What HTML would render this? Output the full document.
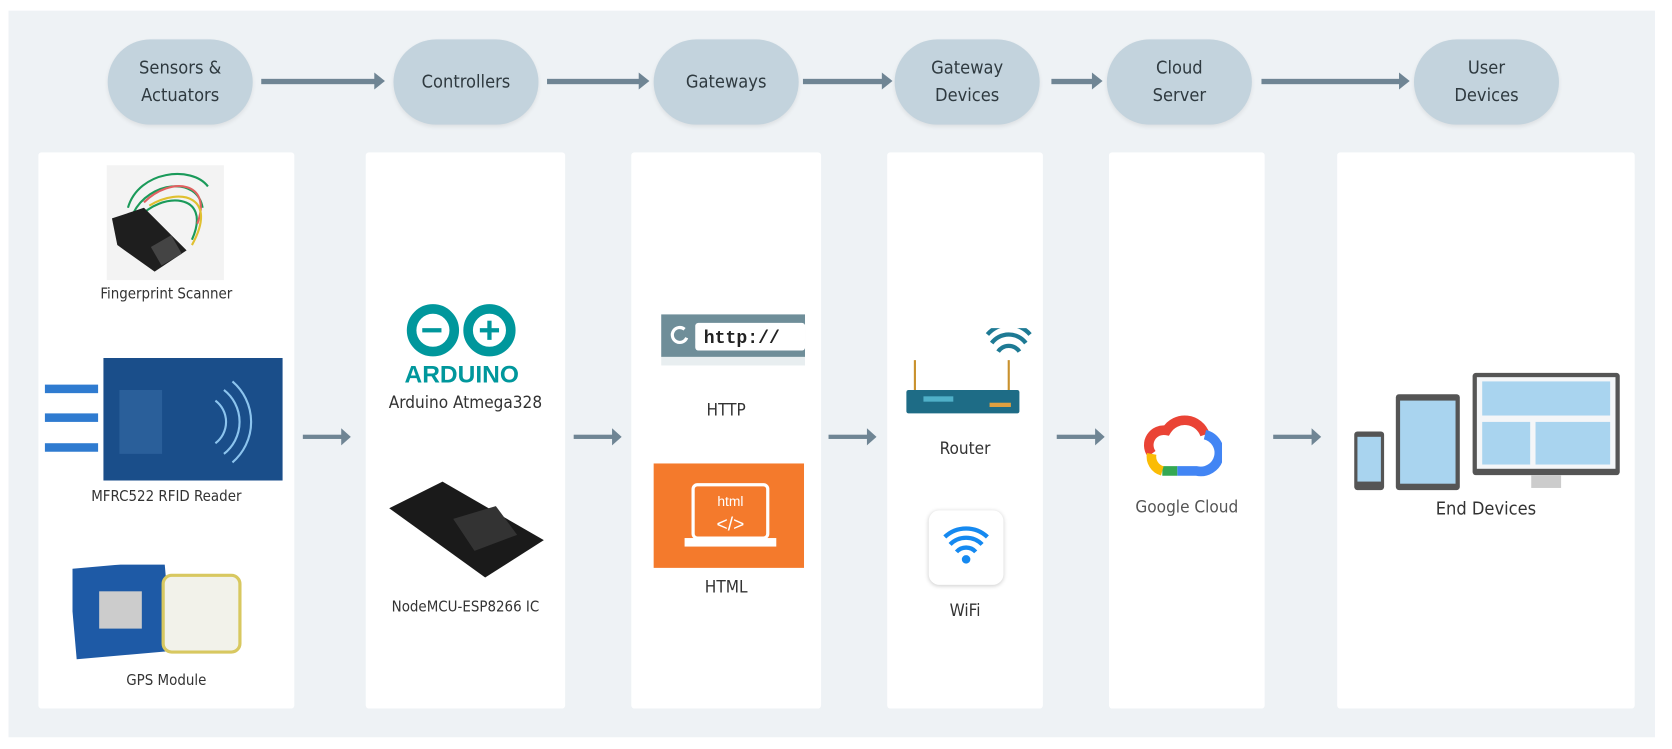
<!DOCTYPE html>
<html><head><meta charset="utf-8"><style>
html,body{margin:0;padding:0;background:#fff;width:1672px;height:749px;overflow:hidden}
#w{position:absolute;left:0;top:0;width:1568px;height:703px;transform:scale(1.06633,1.06543);transform-origin:0 0;font-family:"DejaVu Sans Condensed","Liberation Sans",sans-serif;color:#333}
.bg{position:absolute;left:8px;top:10px;width:1544px;height:682px;background:#eef2f5}
.pill{position:absolute;top:37px;height:80px;width:136px;border-radius:40px;background:#c3d3dd;display:flex;align-items:center;justify-content:center;text-align:center;font-size:17px;line-height:26px;color:#2f3a40;box-shadow:0 2px 4px rgba(0,0,0,.08)}
.ha{position:absolute;height:5px;background:#6f8594;top:74px}
.ha:after{content:"";position:absolute;right:-8px;top:-6px;border-left:10px solid #6f8594;border-top:8px solid transparent;border-bottom:8px solid transparent}
.panel{position:absolute;top:143px;height:522px;background:#fff;border-radius:3px}
.lbl{position:absolute;font-size:14px;color:#333;text-align:center;white-space:nowrap}
.ma{position:absolute;top:408px;height:4px;width:38px;background:#6f8594}
.ma:after{content:"";position:absolute;right:-7px;top:-6px;border-left:9px solid #6f8594;border-top:8px solid transparent;border-bottom:8px solid transparent}
</style></head><body><div id="w">
<div class="bg"></div>
<div class="pill" style="left:101px">Sensors &amp;<br>Actuators</div>
<div class="pill" style="left:369px">Controllers</div>
<div class="pill" style="left:613px">Gateways</div>
<div class="pill" style="left:839px">Gateway<br>Devices</div>
<div class="pill" style="left:1038px">Cloud<br>Server</div>
<div class="pill" style="left:1326px">User<br>Devices</div>
<div class="ha" style="left:245px;width:108px"></div>
<div class="ha" style="left:513px;width:88px"></div>
<div class="ha" style="left:753px;width:76px"></div>
<div class="ha" style="left:986px;width:40px"></div>
<div class="ha" style="left:1183px;width:131px"></div>

<div class="panel" style="left:36px;width:240px"></div>
<div class="panel" style="left:343px;width:187px"></div>
<div class="panel" style="left:592px;width:178px"></div>
<div class="panel" style="left:832px;width:146px"></div>
<div class="panel" style="left:1040px;width:146px"></div>
<div class="panel" style="left:1254px;width:279px"></div>

<div class="ma" style="left:284px"></div>
<div class="ma" style="left:538px"></div>
<div class="ma" style="left:777px"></div>
<div class="ma" style="left:991px"></div>
<div class="ma" style="left:1194px"></div>

<!-- fingerprint -->
<svg style="position:absolute;left:100px;top:155px" width="110" height="108">
<rect width="110" height="108" fill="#f3f3f3"/>
<path d="M20 40 C30 5,80 0,95 20 M25 45 C40 15,85 10,90 40 M30 50 C50 25,100 25,80 70" stroke="#1a9a5a" stroke-width="2" fill="none"/>
<path d="M35 35 C60 10,100 15,85 55" stroke="#e06060" stroke-width="2" fill="none"/>
<path d="M40 38 C70 20,105 30,80 75" stroke="#e0c030" stroke-width="2" fill="none"/>
<polygon points="5,50 35,40 75,80 45,100 10,75" fill="#1e1e1e"/>
<rect x="45" y="70" width="22" height="20" fill="#444" transform="rotate(-30 56 80)"/>
</svg>
<div class="lbl" style="left:36px;width:240px;top:268px">Fingerprint Scanner</div>
<!-- RFID -->
<svg style="position:absolute;left:42px;top:336px" width="226" height="116">
<rect x="55" y="0" width="168" height="115" fill="#1a4e8a"/>
<g fill="#2f7bd0"><rect x="0" y="25" width="50" height="8"/><rect x="0" y="52" width="50" height="8"/><rect x="0" y="80" width="50" height="8"/></g>
<g fill="none" stroke="#8cc4ee" stroke-width="2"><path d="M160 40 a25 25 0 0 1 0 40"/><path d="M168 30 a38 38 0 0 1 0 60"/><path d="M176 22 a50 50 0 0 1 0 76"/></g>
<rect x="70" y="30" width="40" height="60" fill="#2a5f9a"/>
</svg>
<div class="lbl" style="left:36px;width:240px;top:458px">MFRC522 RFID Reader</div>
<!-- GPS -->
<svg style="position:absolute;left:68px;top:530px" width="180" height="90">
<rect x="0" y="0" width="90" height="85" fill="#1e5aa6" transform="rotate(-5 45 42)"/>
<rect x="25" y="25" width="40" height="35" fill="#ccc"/>
<rect x="85" y="10" width="72" height="72" rx="8" fill="#f2f2ea" stroke="#d8c860" stroke-width="3"/>
</svg>
<div class="lbl" style="left:36px;width:240px;top:631px">GPS Module</div>

<!-- arduino -->
<svg style="position:absolute;left:378px;top:283px" width="112" height="80">
<g fill="none" stroke="#00979c" stroke-width="9"><circle cx="28" cy="27" r="20"/><circle cx="81" cy="27" r="20"/></g>
<rect x="18" y="25" width="18" height="4" fill="#00979c"/><rect x="72" y="25" width="18" height="4" fill="#00979c"/><rect x="79" y="18" width="4" height="18" fill="#00979c"/>
<text x="55" y="76" text-anchor="middle" font-family="Liberation Sans" font-weight="bold" font-size="23" fill="#00979c">ARDUINO</text>
</svg>
<div class="lbl" style="left:343px;width:187px;top:368px;font-size:16px">Arduino Atmega328</div>
<svg style="position:absolute;left:355px;top:447px" width="160" height="100">
<polygon points="10,30 60,5 155,60 100,95" fill="#1a1a1a"/>
<polygon points="70,40 110,28 130,55 90,70" fill="#333"/>
</svg>
<div class="lbl" style="left:343px;width:187px;top:562px;font-size:14px">NodeMCU-ESP8266 IC</div>

<!-- http -->
<svg style="position:absolute;left:620px;top:295px" width="135" height="55">
<rect x="0" y="0" width="135" height="40" fill="#6f8e99"/>
<rect x="32" y="8" width="103" height="26" rx="3" fill="#fff"/>
<rect x="0" y="40" width="135" height="8" fill="#e8eef0"/>
<text x="40" y="27" font-family="Liberation Mono" font-weight="bold" font-size="17" fill="#222">http://</text>
<path d="M22 14 a7 7 0 1 0 2 8" stroke="#fff" stroke-width="3" fill="none"/>
</svg>
<div class="lbl" style="left:592px;width:178px;top:375px;font-size:16px">HTTP</div>
<div style="position:absolute;left:613px;top:435px;width:141px;height:98px;background:#f47a2c"></div>
<svg style="position:absolute;left:640px;top:450px" width="90" height="70">
<rect x="10" y="5" width="70" height="50" rx="4" fill="none" stroke="#fff" stroke-width="3"/>
<rect x="2" y="55" width="86" height="8" fill="#fff"/>
<text x="45" y="25" text-anchor="middle" fill="#fff" font-size="13" font-family="Liberation Sans">html</text>
<text x="45" y="48" text-anchor="middle" fill="#fff" font-size="18" font-family="Liberation Sans">&lt;/&gt;</text>
</svg>
<div class="lbl" style="left:592px;width:178px;top:541px;font-size:16px">HTML</div>

<!-- router -->
<svg style="position:absolute;left:848px;top:308px" width="120" height="85">
<line x1="10" y1="30" x2="10" y2="60" stroke="#c9912e" stroke-width="2"/><line x1="98" y1="30" x2="98" y2="60" stroke="#c9912e" stroke-width="2"/>
<g fill="none" stroke="#1e7a94" stroke-width="4"><path d="M88 22 a12 12 0 0 1 20 0"/><path d="M82 14 a20 20 0 0 1 32 0"/><path d="M78 6 a26 26 0 0 1 40 0"/></g>
<rect x="2" y="58" width="106" height="22" rx="2" fill="#1e6c86"/>
<rect x="18" y="64" width="28" height="5" fill="#4fb0c8"/><rect x="80" y="70" width="20" height="4" fill="#e0a040"/>
</svg>
<div class="lbl" style="left:832px;width:146px;top:411px;font-size:16px">Router</div>
<div style="position:absolute;left:871px;top:479px;width:70px;height:70px;border-radius:10px;background:#fff;box-shadow:0 1px 4px rgba(0,0,0,.2)"></div>
<svg style="position:absolute;left:884px;top:492px" width="44" height="44">
<g fill="none" stroke="#1589f0" stroke-width="4"><path d="M13 26 a12 12 0 0 1 18 0"/><path d="M7 19 a21 21 0 0 1 30 0"/><path d="M2 12 a29 29 0 0 1 40 0"/></g><circle cx="22" cy="33" r="4" fill="#1589f0"/>
</svg>
<div class="lbl" style="left:832px;width:146px;top:563px;font-size:16px">WiFi</div>

<!-- google cloud -->
<svg style="position:absolute;left:1068px;top:386px" width="78" height="62">
<path d="M12 40 a14 14 0 0 1 14-22 a20 20 0 0 1 36 4" fill="none" stroke="#ea4335" stroke-width="9"/>
<path d="M62 22 a14 14 0 0 1 -8 34 h-18" fill="none" stroke="#4285f4" stroke-width="9"/>
<path d="M36 56 h-14" stroke="#34a853" stroke-width="9"/>
<path d="M22 56 a14 14 0 0 1 -10 -16" fill="none" stroke="#fbbc05" stroke-width="9"/>
</svg>
<div class="lbl" style="left:1040px;width:146px;top:466px;font-size:16px;color:#555">Google Cloud</div>

<!-- end devices -->
<svg style="position:absolute;left:1268px;top:348px" width="255" height="115">
<rect x="2" y="57" width="28" height="55" rx="3" fill="#555"/><rect x="5" y="62" width="22" height="42" fill="#a9d4ef"/>
<rect x="41" y="22" width="60" height="90" rx="3" fill="#555"/><rect x="45" y="28" width="52" height="78" fill="#a9d4ef"/>
<rect x="113" y="2" width="138" height="96" rx="3" fill="#555"/><rect x="117" y="6" width="130" height="86" fill="#f4f6f8"/>
<rect x="122" y="10" width="120" height="32" fill="#a9d4ef"/><rect x="122" y="48" width="45" height="40" fill="#a9d4ef"/><rect x="172" y="48" width="70" height="40" fill="#a9d4ef"/>
<rect x="168" y="98" width="28" height="12" fill="#ccc"/>
</svg>
<div class="lbl" style="left:1254px;width:279px;top:468px;font-size:17px">End Devices</div>
</div></body></html>
